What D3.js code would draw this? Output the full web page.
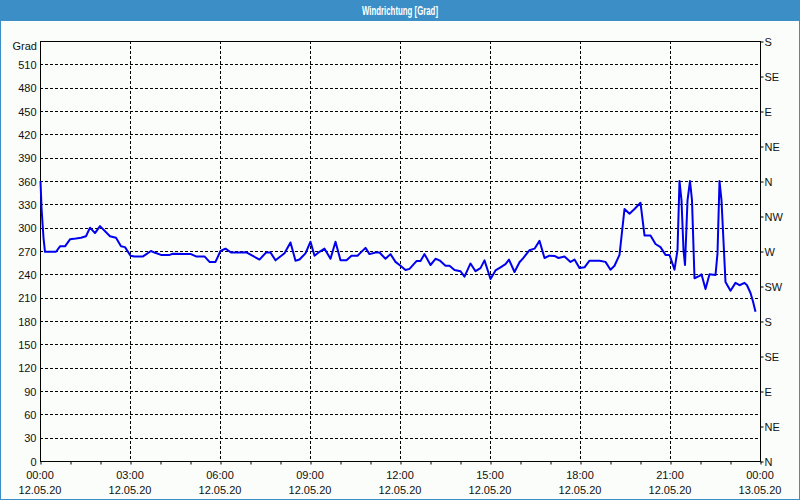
<!DOCTYPE html>
<html><head><meta charset="utf-8">
<script src="https://cdn.jsdelivr.net/npm/d3@7"></script>
<style>
html,body{margin:0;padding:0;background:#fff;}
text{font-family:"Liberation Sans",Arial,sans-serif;}
</style></head>
<body><svg id="c" width="800" height="500"></svg>
<script>
// ---- data (minutes after 12.05.20 00:00, wind direction in degrees) ----
const minutes = [1,3,5,7,10,32,40,50,60,72,82,92,100,110,120,140,152,162,170,181,189,206,222,229,242,259,266,289,302,312,329,339,351,361,371,382,402,412,422,439,452,461,471,489,501,511,519,531,541,549,559,569,581,591,601,613,623,635,651,659,671,679,691,701,711,721,731,739,753,761,769,781,791,799,811,819,829,841,849,861,871,881,889,901,911,921,931,938,949,959,966,979,989,999,1009,1019,1029,1037,1049,1061,1069,1079,1089,1099,1119,1131,1141,1149,1159,1169,1179,1189,1201,1209,1221,1231,1241,1251,1259,1269,1275,1279,1283,1287,1290,1295,1300,1304,1309,1319,1323,1331,1339,1351,1355,1359,1363,1371,1381,1391,1399,1409,1414,1421,1426,1431];
const degrees = [360,326,306,287,269,269,276,276,285,286,287,289,300,293,302,289,287,276,275,264,263,263,270,268,265,265,266.5,266,266,263,263,256,256,270,273,268,268,268.5,265,259,268,268,258,267,281,257.5,259,267,282,264,269,273,260,282,258,258,264,264,274,266,268,268,260,266,256,251,245.6,247,257,257,266,252,260,258,251,251,245.6,244,237,254,244,248,258,234,245,249,253,259,243,255.5,260.6,271,273,283,261,264,263.6,261,263,256,259,248,249,257.5,257.5,256,246,251,265,324,318,324,332,290,290,279,275,265,265,246,271,360,335,271,252,335,360,335,235,238,240,221,240,239,267,360,335,230,219,229,226,229,226,216,205,192];

const title = "Windrichtung [Grad]";
const yUnit = "Grad";
const leftTicks = [0,30,60,90,120,150,180,210,240,270,300,330,360,390,420,450,480,510];
const rightTicks = [0,45,90,135,180,225,270,315,360,405,450,495,540];
const rightLabels = ["N","NE","E","SE","S","SW","W","NW","N","NE","E","SE","S"];
const hourTicks = d3.range(0,1441,60);
const labelMinutes = [0,180,360,540,720,900,1080,1260,1440];
const timeLabels = ["00:00","03:00","06:00","09:00","12:00","15:00","18:00","21:00","00:00"];
const dateLabels = ["12.05.20","12.05.20","12.05.20","12.05.20","12.05.20","12.05.20","12.05.20","12.05.20","13.05.20"];

// ---- layout ----
const W=800,H=500, L=40, R=760, T=41, B=461;
const svg=d3.select("#c");
svg.append("rect").attr("x",0).attr("y",0).attr("width",W).attr("height",H).attr("fill","#fafdfa");
svg.append("rect").attr("x",0.5).attr("y",0.5).attr("width",W-1).attr("height",H-1).attr("fill","none").attr("stroke","#3c8fc6").attr("stroke-width",1);
svg.append("rect").attr("x",0).attr("y",0).attr("width",W).attr("height",21).attr("fill","#3c8fc6");
svg.append("text").attr("x",400).attr("y",15).attr("text-anchor","middle").attr("fill","#fff")
  .attr("font-weight","bold").attr("font-size",12.5).attr("textLength",76).attr("lengthAdjust","spacingAndGlyphs").text(title);

const x=d3.scaleLinear().domain([0,1440]).range([L,R]);
const y=d3.scaleLinear().domain([0,540]).range([B,T]);

// grid
const g=svg.append("g");
g.selectAll("line.h").data(leftTicks.filter(v=>v>0)).join("line")
  .attr("x1",L).attr("x2",R).attr("y1",d=>Math.round(y(d))+0.5).attr("y2",d=>Math.round(y(d))+0.5)
  .attr("stroke","#000").attr("stroke-dasharray","3,2").attr("shape-rendering","crispEdges");
g.selectAll("line.v").data(labelMinutes.filter(v=>v>0&&v<1440)).join("line")
  .attr("y1",T).attr("y2",B).attr("x1",d=>Math.round(x(d))+0.5).attr("x2",d=>Math.round(x(d))+0.5)
  .attr("stroke","#000").attr("stroke-dasharray","3,2").attr("shape-rendering","crispEdges");

// frame
svg.append("rect").attr("x",L+0.5).attr("y",T+0.5).attr("width",R-L).attr("height",B-T)
  .attr("fill","none").attr("stroke","#000").attr("shape-rendering","crispEdges");

// axes
const fontCol="#111";
const ax=svg.append("g").attr("transform",`translate(0.5,${B+0.5})`)
  .call(d3.axisBottom(x).tickValues(hourTicks).tickSize(3).tickFormat(""));
ax.select(".domain").remove();
ax.selectAll("line").attr("stroke","#000");
const lbl=svg.append("g").attr("font-size",11).attr("fill",fontCol).attr("text-anchor","middle");
lbl.selectAll("text.t").data(labelMinutes).join("text").attr("x",d=>x(d)).attr("y",479).text((d,i)=>timeLabels[i]);
lbl.selectAll("text.d").data(labelMinutes).join("text").attr("x",d=>x(d)).attr("y",494).text((d,i)=>dateLabels[i]);

const ay=svg.append("g").attr("transform",`translate(${L+0.5},0.5)`)
  .call(d3.axisLeft(y).tickValues(leftTicks).tickSize(0).tickPadding(4).tickFormat(d=>d));
ay.select(".domain").remove();
ay.selectAll("text").attr("font-size",11).attr("fill",fontCol).attr("font-family","Liberation Sans, Arial, sans-serif");
svg.append("text").attr("x",37).attr("y",50).attr("text-anchor","end").attr("font-size",11).attr("fill",fontCol).text(yUnit);

const ar=svg.append("g").attr("transform",`translate(${R+0.5},0.5)`)
  .call(d3.axisRight(y).tickValues(rightTicks).tickSize(3).tickPadding(1).tickFormat((d,i)=>rightLabels[i]));
ar.select(".domain").remove();
ar.selectAll("line").attr("stroke","#000");
ar.selectAll("text").attr("font-size",11).attr("fill",fontCol).attr("font-family","Liberation Sans, Arial, sans-serif");

// line
const pts=minutes.map((m,i)=>[m,degrees[i]]);
svg.append("path").datum(pts).attr("fill","none").attr("stroke","#0000ee").attr("stroke-width",2)
  .attr("stroke-linejoin","round")
  .attr("d",d3.line().x(d=>x(d[0])).y(d=>y(d[1])));
</script></body></html>
